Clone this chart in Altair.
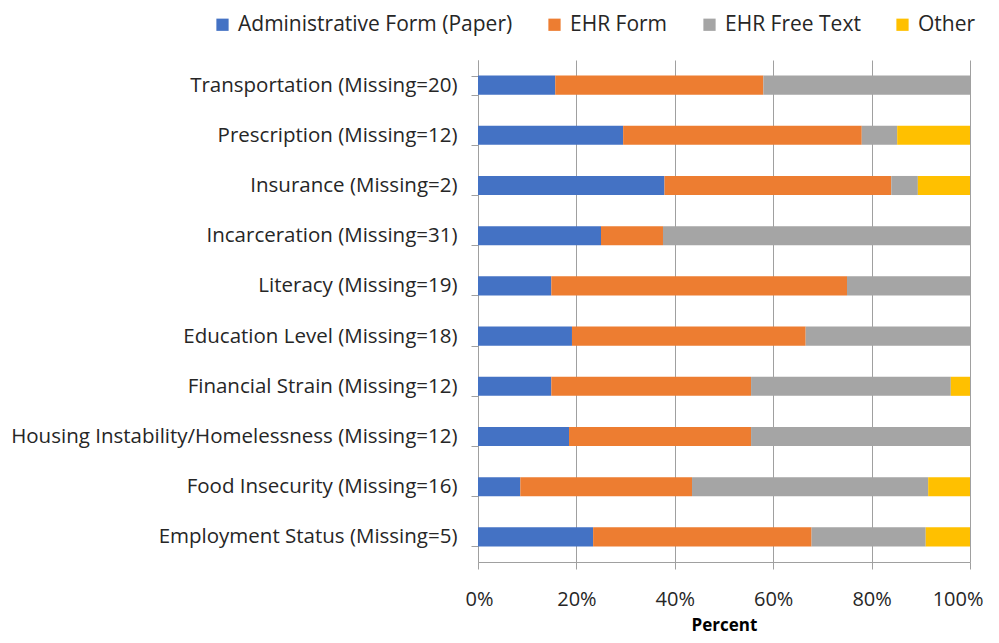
import altair as alt
import pandas as pd

categories = [
    "Transportation (Missing=20)",
    "Prescription (Missing=12)",
    "Insurance (Missing=2)",
    "Incarceration (Missing=31)",
    "Literacy (Missing=19)",
    "Education Level (Missing=18)",
    "Financial Strain (Missing=12)",
    "Housing Instability/Homelessness (Missing=12)",
    "Food Insecurity (Missing=16)",
    "Employment Status (Missing=5)",
]
series = ["Administrative Form (Paper)", "EHR Form", "EHR Free Text", "Other"]
colors = ["#4472C4", "#ED7D31", "#A5A5A5", "#FFC000"]

admin_paper = [15.7, 29.5, 37.9, 25.0, 14.9, 19.1, 14.9, 18.5, 8.6, 23.4]
ehr_form = [42.3, 48.5, 46.1, 12.6, 60.1, 47.5, 40.6, 37.0, 34.9, 44.4]
ehr_free_text = [42.0, 7.2, 5.4, 62.4, 25.0, 33.4, 40.6, 44.5, 48.0, 23.2]
other = [0.0, 14.8, 10.6, 0.0, 0.0, 0.0, 3.9, 0.0, 8.5, 9.0]

rows = []
for s_i, (name, vals) in enumerate(zip(series, [admin_paper, ehr_form, ehr_free_text, other])):
    for c, v in zip(categories, vals):
        rows.append({"category": c, "series": name, "value": v, "order": s_i})
df = pd.DataFrame(rows)

FONT = "Open Sans"

chart = alt.Chart(df).mark_bar().encode(
    y=alt.Y("category:N", sort=categories, title=None,
            scale=alt.Scale(paddingInner=0.62, paddingOuter=0.31),
            axis=alt.Axis(tickBand="extent", tickSize=7, labelPadding=14,
                          labelFontSize=20.5, labelFont=FONT, labelColor="#262626",
                          domainColor="#A0A0A0", tickColor="#A0A0A0", labelLimit=600)),
    x=alt.X("value:Q", stack="zero", title="Percent",
            scale=alt.Scale(domain=[0, 100], nice=False),
            axis=alt.Axis(values=[0, 20, 40, 60, 80, 100], labelExpr="datum.value + '%'",
                          labelFlush=True, labelFlushOffset=13, labelOverlap=False,
                          tickSize=7, labelPadding=20, labelFontSize=20, labelFont=FONT,
                          labelColor="#262626", titleFont=FONT, titleFontSize=17,
                          titleFontWeight="bold", titleColor="#000000", titlePadding=8,
                          grid=True, gridColor="#A0A0A0", domainColor="#A0A0A0",
                          tickColor="#A0A0A0")),
    color=alt.Color("series:N", sort=series,
                    scale=alt.Scale(domain=series, range=colors),
                    legend=alt.Legend(title=None, orient="none", direction="horizontal",
                                      legendX=-266, legendY=-46, symbolType="square",
                                      symbolSize=150, symbolStrokeWidth=0,
                                      labelFontSize=21, labelFont=FONT, labelColor="#262626",
                                      labelLimit=500, columnPadding=31, labelOffset=5)),
    order=alt.Order("order:Q"),
).properties(
    width=492, height=502,
    padding={"left": 470, "top": 52, "right": 20, "bottom": 73},
    autosize=alt.AutoSizeParams(type="none"),
).configure_view(stroke=None)

chart.save("out.html", embed_options={"renderer": "svg", "actions": False})
